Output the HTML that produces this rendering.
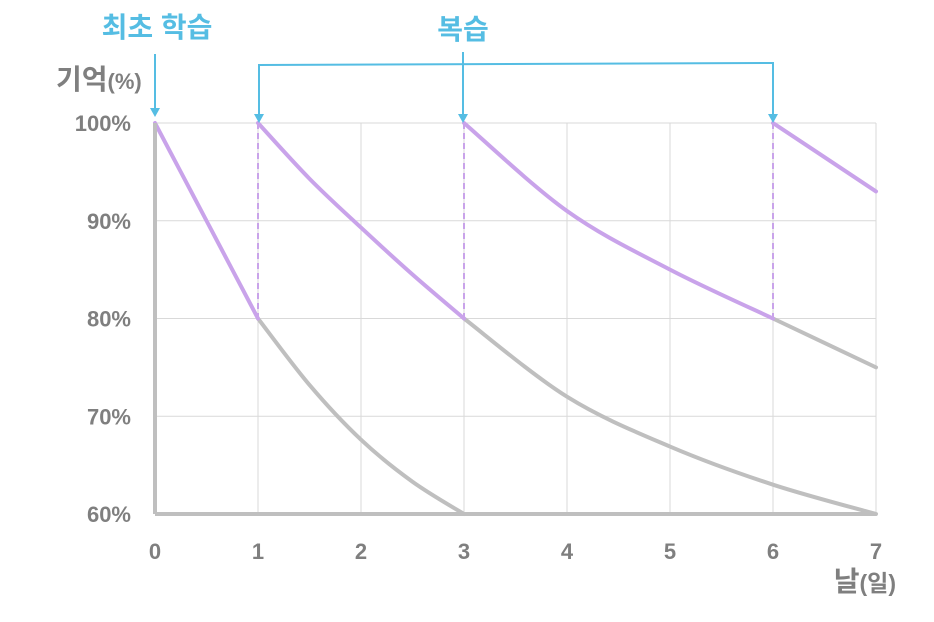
<!DOCTYPE html>
<html><head><meta charset="utf-8"><style>
body{margin:0;background:#fff;width:934px;height:617px;overflow:hidden}
text{font-family:"Liberation Sans","Noto Sans CJK KR",sans-serif;font-weight:bold}
</style></head><body>
<svg id="chart" width="934" height="617" xmlns="http://www.w3.org/2000/svg">
<g id="grid"></g>
<g id="series"></g>
<g id="axes"></g>
<g id="annot">
<text x="157" y="37" font-size="28" fill="#55bde3" text-anchor="middle">최초 학습</text>
<text x="463" y="39" font-size="28" fill="#55bde3" text-anchor="middle">복습</text>
<text x="56" y="89" font-size="28" fill="#7f7f7f">기억<tspan font-size="22">(%)</tspan></text>
<text x="896" y="591" font-size="28" fill="#7f7f7f" text-anchor="end">날<tspan font-size="23">(일)</tspan></text>
<g stroke="#55bde3" stroke-width="2" fill="none">
<line x1="155" y1="54" x2="155" y2="110"/>
<polyline points="259,115 259,65 773,63 773,115"/>
<line x1="463" y1="52" x2="463" y2="115"/>
</g>
<g fill="#55bde3">
<polygon points="150,108 160,108 155,117"/>
<polygon points="254,114 264,114 259,123"/>
<polygon points="458,114 468,114 463,123"/>
<polygon points="768,114 778,114 773,123"/>
</g>
</g>
</svg>
<script>
const xTicks=[0,1,2,3,4,5,6,7];
const yTicks=[60,70,80,90,100];
const yTickLabels=["60%","70%","80%","90%","100%"];
const purple0X=[0,0.25,0.5,0.75,1];
const purple0Y=[100,95,90,85,80];
const gray1X=[1,1.5,2,2.5,3];
const gray1Y=[80,73.2,67.6,63.3,60];
const purple1X=[1,1.5,2,2.5,3];
const purple1Y=[100,94.3,89.3,84.5,80];
const gray3X=[3,4,5,6,7];
const gray3Y=[80,72,66.9,63,60];
const purple3X=[3,4,5,6];
const purple3Y=[100,91,85,80];
const gray6X=[6,7];
const gray6Y=[80,75];
const purple6X=[6,7];
const purple6Y=[100,93];
const reviewDays=[1,3,6];
const NS="http://www.w3.org/2000/svg";
const xs=d=>155+d*(876-155)/7;
const ys=v=>514-(v-60)*(514-123)/40;
function mk(tag,attrs,parent){const e=document.createElementNS(NS,tag);for(const k in attrs)e.setAttribute(k,attrs[k]);parent.appendChild(e);return e;}
const grid=document.getElementById('grid'),series=document.getElementById('series'),axes=document.getElementById('axes');
xTicks.forEach(d=>{const l=mk('line',{x1:xs(d),x2:xs(d),y1:ys(100),y2:ys(60),stroke:'#d9d9d9','stroke-width':1},grid);


const t=mk('text',{x:xs(d),y:559,'font-size':22,fill:'#7f7f7f','text-anchor':'middle'},axes);t.textContent=d;

});
yTicks.forEach((v,i)=>{const l=mk('line',{x1:xs(0),x2:xs(7),y1:ys(v),y2:ys(v),stroke:'#d9d9d9','stroke-width':1},grid);


const t=mk('text',{x:131,y:ys(v)+8,'font-size':22,fill:'#7f7f7f','text-anchor':'end'},axes);t.textContent=yTickLabels[i];

});
reviewDays.forEach(d=>{const l=mk('line',{x1:xs(d),x2:xs(d),y1:ys(100),y2:ys(80),stroke:'#c9a3ea','stroke-width':2,'stroke-dasharray':'6,4'},series);

});
function curve(X,Y,color,name){let d='';X.forEach((x,i)=>{const px=xs(x),py=ys(Y[i]);if(i==0)d='M'+px+','+py;else{const p0x=xs(X[Math.max(i-2,0)]),p0y=ys(Y[Math.max(i-2,0)]),p1x=xs(X[i-1]),p1y=ys(Y[i-1]),p3x=xs(X[Math.min(i+1,X.length-1)]),p3y=ys(Y[Math.min(i+1,X.length-1)]);
d+=' C'+(p1x+(px-p0x)/6)+','+(p1y+(py-p0y)/6)+' '+(px-(p3x-p1x)/6)+','+(py-(p3y-p1y)/6)+' '+px+','+py;}});
const p=mk('path',{d:d,fill:'none',stroke:color,'stroke-width':4,'stroke-linecap':'round'},series);

}
curve(gray1X,gray1Y,'#bfbfbf','forgetting-curve-day1');
curve(gray3X,gray3Y,'#bfbfbf','forgetting-curve-day3');
curve(gray6X,gray6Y,'#bfbfbf','forgetting-curve-day6');
curve(purple0X,purple0Y,'#c9a3ea','memory-curve-day0');
curve(purple1X,purple1Y,'#c9a3ea','memory-curve-day1');
curve(purple3X,purple3Y,'#c9a3ea','memory-curve-day3');
curve(purple6X,purple6Y,'#c9a3ea','memory-curve-day6');
const ya=mk('line',{x1:xs(0),x2:xs(0),y1:ys(100),y2:ys(60),stroke:'#bfbfbf','stroke-width':4},axes);


const xa=mk('line',{x1:xs(0),x2:xs(7),y1:ys(60),y2:ys(60),stroke:'#bfbfbf','stroke-width':4},axes);


</script>
</body></html>
